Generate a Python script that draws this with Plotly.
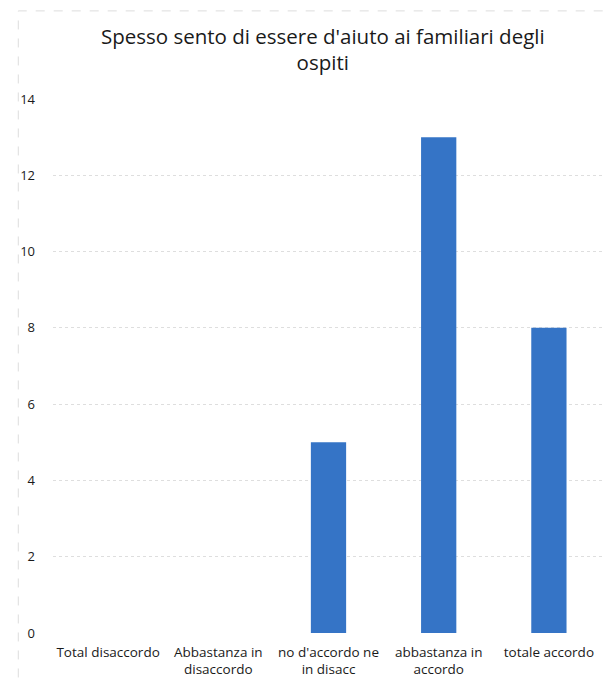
import plotly.graph_objects as go

categories = [
    'Total disaccordo',
    'Abbastanza in<br>disaccordo',
    "no d'accordo ne<br>in disacc",
    'abbastanza in<br>accordo',
    'totale accordo',
]
values = [0, 0, 5, 13, 8]
y_ticks = [0, 2, 4, 6, 8, 10, 12, 14]

fig = go.Figure(go.Bar(
    x=categories,
    y=values,
    marker=dict(color='#3574c6', line=dict(width=0)),
))

fig.update_layout(
    width=616,
    height=686,
    margin=dict(l=38, r=20, t=91, b=61),
    paper_bgcolor='white',
    plot_bgcolor='white',
    font=dict(family='Open Sans, Noto Sans, sans-serif', color='#1a1a1a', size=13),
    title=dict(
        text="Spesso sento di essere d'aiuto ai familiari degli<br>ospiti",
        x=0.511,
        xanchor='center',
        y=0.948,
        yanchor='top',
        font=dict(size=20.5, color='#1a1a1a'),
    ),
    bargap=0.68,
    showlegend=False,
)

fig.update_xaxes(
    showgrid=False,
    showline=False,
    ticks='',
    ticklabelstandoff=9,
    tickfont=dict(size=13.5),
)

fig.update_yaxes(
    range=[0, 14],
    tickvals=y_ticks,
    showgrid=True,
    gridcolor='#dedede',
    gridwidth=1,
    griddash='dot',
    zeroline=False,
    showline=False,
    ticks='',
    ticklabelstandoff=17,
    tickfont=dict(size=13),
)

# faint border of the scanned chart area
fig.add_shape(
    type='rect', xref='paper', yref='paper',
    x0=-0.063, x1=1.06, y0=-0.14, y1=1.165,
    line=dict(color='#dddddd', width=1, dash='dash'),
)

fig.write_html("out.html")
